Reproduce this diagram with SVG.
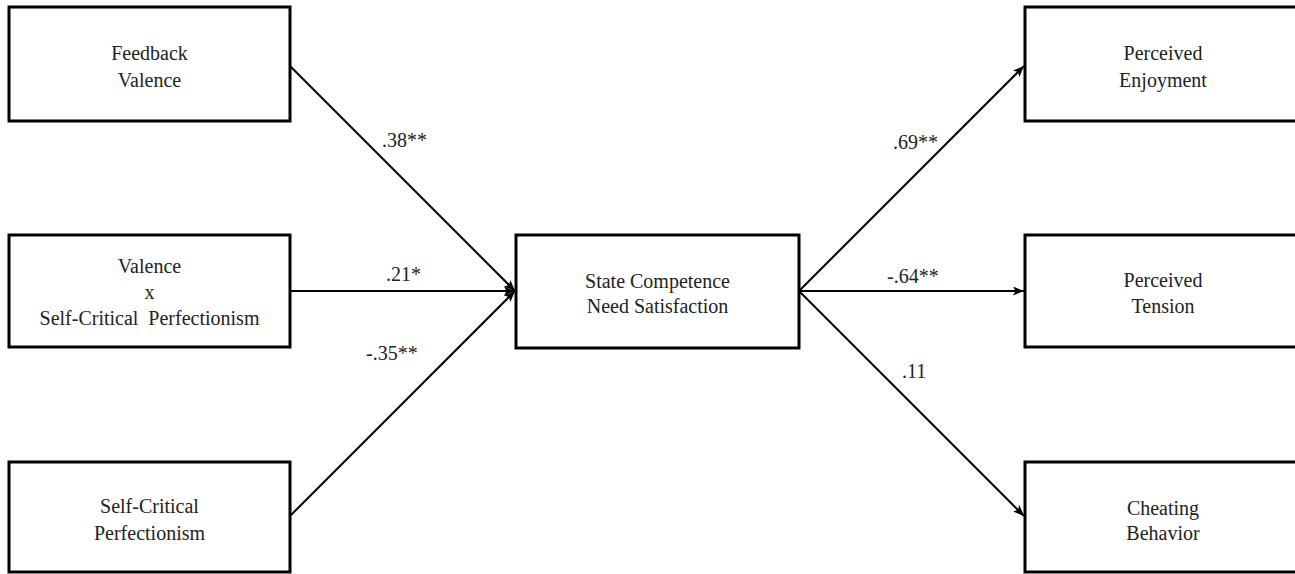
<svg xmlns="http://www.w3.org/2000/svg" width="1295" height="574" viewBox="0 0 1295 574">
<style>
.box{fill:#fff;stroke:#000;stroke-width:3}
.t{font-family:"Liberation Serif","Times New Roman",serif;font-size:20px;fill:#222;text-anchor:middle}
.lbl{font-family:"Liberation Serif","Times New Roman",serif;font-size:20px;fill:#222}
.c{stroke:#000;stroke-width:2;fill:none;marker-end:url(#ah)}
</style>
<defs>
<marker id="ah" markerUnits="userSpaceOnUse" markerWidth="12" markerHeight="10" refX="11" refY="4.5" orient="auto">
<path d="M0,0 L11,4.5 L0,9 L2.5,4.5 z" fill="#000"/>
</marker>
</defs>
<rect width="1295" height="574" fill="#fff"/>
<g id="connectors">
<line class="c" x1="290" y1="66" x2="515" y2="291"/>
<line class="c" x1="290" y1="291" x2="515" y2="291"/>
<line class="c" x1="290" y1="516" x2="515" y2="291"/>
<line class="c" x1="799" y1="291" x2="1024" y2="66"/>
<line class="c" x1="799" y1="291" x2="1024" y2="291"/>
<line class="c" x1="799" y1="291" x2="1024" y2="516"/>
<text class="lbl" x="382" y="147">.38**</text>
<text class="lbl" x="386" y="281">.21*</text>
<text class="lbl" x="366" y="360">-.35**</text>
<text class="lbl" x="893" y="149">.69**</text>
<text class="lbl" x="887" y="283">-.64**</text>
<text class="lbl" x="902" y="378">.11</text>
</g>
<g id="feedback-valence">
<rect class="box" x="9" y="7" width="281" height="114"/>
<text class="t" x="149.5" y="60">Feedback</text>
<text class="t" x="149.5" y="87">Valence</text>
</g>
<g id="valence-x-scp">
<rect class="box" x="9" y="235" width="281" height="112"/>
<text class="t" x="149.5" y="273">Valence</text>
<text class="t" x="149.5" y="299">x</text>
<text class="t" x="149.5" y="325" xml:space="preserve">Self-Critical  Perfectionism</text>
</g>
<g id="self-critical-perfectionism">
<rect class="box" x="9" y="462" width="281" height="110"/>
<text class="t" x="149.5" y="513">Self-Critical</text>
<text class="t" x="149.5" y="540">Perfectionism</text>
</g>
<g id="state-competence">
<rect class="box" x="516" y="235" width="283" height="113"/>
<text class="t" x="657.5" y="288">State Competence</text>
<text class="t" x="657.5" y="313">Need Satisfaction</text>
</g>
<g id="perceived-enjoyment">
<rect class="box" x="1025" y="7" width="278" height="114"/>
<text class="t" x="1163" y="60">Perceived</text>
<text class="t" x="1163" y="87">Enjoyment</text>
</g>
<g id="perceived-tension">
<rect class="box" x="1025" y="235" width="278" height="112"/>
<text class="t" x="1163" y="287">Perceived</text>
<text class="t" x="1163" y="313">Tension</text>
</g>
<g id="cheating-behavior">
<rect class="box" x="1025" y="462" width="278" height="110"/>
<text class="t" x="1163" y="515">Cheating</text>
<text class="t" x="1163" y="540">Behavior</text>
</g>
</svg>
